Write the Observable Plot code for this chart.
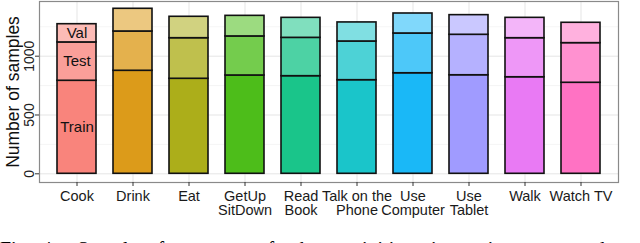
<!DOCTYPE html>
<html>
<head>
<meta charset="utf-8">
<script src="https://cdn.jsdelivr.net/npm/d3@7"></script>
<script src="https://cdn.jsdelivr.net/npm/@observablehq/plot@0.6"></script>
<style>
  html, body { margin: 0; padding: 0; background: #fff; overflow: hidden; }
  #chart svg { display: block; }
  #caption {
    font-family: "Liberation Serif", "Times New Roman", serif;
    font-size: 20px; line-height: 20px; margin-top: 17px;
    width: 605px; text-align: justify; text-align-last: justify; color: #000;
    white-space: nowrap; 
  }
</style>
</head>
<body>
<div id="chart"></div>
<div id="caption">Fig. 4: &nbsp;Sample &nbsp;frequency &nbsp;of &nbsp;the &nbsp;activities &nbsp;in &nbsp;train, &nbsp;test &nbsp;and</div>
<script>
const activities = ["Cook","Drink","Eat","GetUp SitDown","Read Book","Talk on the Phone","Use Computer","Use Tablet","Walk","Watch TV"];
const tickLabels = ["Cook","Drink","Eat","GetUp\nSitDown","Read\nBook","Talk on the\nPhone","Use\nComputer","Use\nTablet","Walk","Watch TV"];
const trainCounts = [791, 876, 808, 836, 830, 796, 855, 838, 821, 774];
const testCounts  = [326, 334, 345, 332, 326, 329, 338, 344, 332, 337];
const valCounts   = [155, 193, 182, 175, 170, 162, 170, 167, 173, 173];
const splits = ["Train","Test","Val"];
const palette = ["#F8766D","#D89000","#A3A500","#39B600","#00BF7D","#00BFC4","#00B0F6","#9590FF","#E76BF3","#FF62BC"];
const splitAlpha = [0.9, 0.7, 0.5];
const yTicks = [0, 500, 1000];
const yMinor = [250, 750, 1250];

const rows = [];
activities.forEach((a, i) => {
  const vals = [trainCounts[i], testCounts[i], valCounts[i]];
  let acc = 0;
  vals.forEach((v, j) => {
    rows.push({
      activity: a, split: splits[j], y1: acc, y2: acc + v,
      color: d3.interpolateRgb("#ffffff", palette[i])(splitAlpha[j])
    });
    acc += v;
  });
});
const labelFor = new Map(activities.map((a, i) => [a, tickLabels[i]]));
const font = "'Liberation Sans', Arial, Helvetica, sans-serif";

const chart = Plot.plot({
  width: 640, height: 222,
  marginTop: 1, marginBottom: 40, marginLeft: 39, marginRight: 22,
  style: { fontFamily: font, background: "#fff" },
  x: { type: "band", domain: activities, paddingInner: 0.3, paddingOuter: 0.25 },
  y: { domain: [-74, 1465] },
  marks: [
    Plot.gridY(yMinor, { stroke: "#f3f3f3", strokeOpacity: 1, strokeWidth: 0.8 }),
    Plot.gridY(yTicks, { stroke: "#e5e5e5", strokeOpacity: 1, strokeWidth: 1 }),
    Plot.gridX({ stroke: "#e5e5e5", strokeOpacity: 1, strokeWidth: 1 }),
    Plot.barY(rows, { x: "activity", y1: "y1", y2: "y2", fill: "color", stroke: "#111", strokeWidth: 1.6 }),
    Plot.text(rows.filter(d => d.activity === activities[0]), {
      x: "activity", y: d => (d.y1 + d.y2) / 2, text: "split", fontSize: 15, fill: "#111"
    }),
    Plot.frame({ stroke: "#8a8a8a", strokeWidth: 1.2 }),
    Plot.axisY(yTicks, { tickSize: 4, tickPadding: 2, tickRotate: -90, fontSize: 14, label: null, stroke: "#333", fill: "#222",
      tickFormat: d => String(d) }),
    Plot.axisX({ tickSize: 4, tickPadding: 4, fontSize: 14.5, lineHeight: 1, label: null, stroke: "#333", fill: "#1a1a1a",
      tickFormat: d => labelFor.get(d) }),
    Plot.text(["Number of samples"], { frameAnchor: "left", textAnchor: "middle", rotate: -90, dx: -26, fontSize: 17.5, fill: "#111" })
  ]
});
document.getElementById("chart").append(chart);
</script>
</body>
</html>
